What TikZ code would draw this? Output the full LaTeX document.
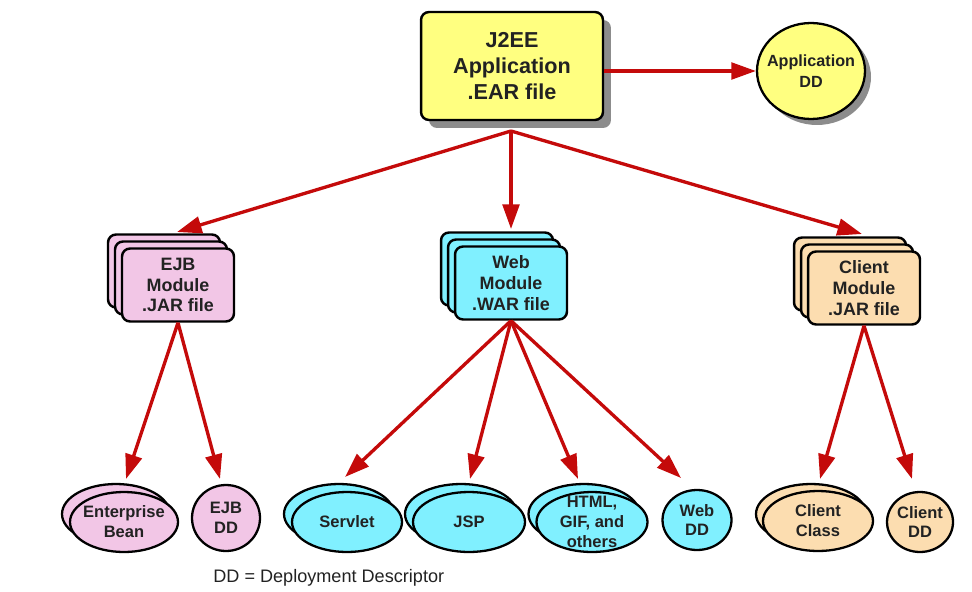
\documentclass[tikz,border=0pt]{standalone}
\usepackage{fontspec}
\setmainfont{Liberation Sans}
\usetikzlibrary{arrows.meta,calc,shapes.geometric,shadows}
\definecolor{yel}{HTML}{FFFF80}
\definecolor{pinkc}{HTML}{F2C6E6}
\definecolor{cyanc}{HTML}{80F0FF}
\definecolor{peach}{HTML}{FCDDB0}
\definecolor{arrred}{HTML}{C40A0A}
\definecolor{shd}{HTML}{8C8C8C}
\definecolor{txt}{HTML}{222222}
\begin{document}
\begin{tikzpicture}[x=0.02cm,y=-0.02cm,
  earbox/.style={draw=black, line width=1.4pt, rounded corners=0.16cm, fill=yel,
    minimum width=3.64cm, minimum height=2.16cm, inner sep=0pt, align=center,
    font=\bfseries\fontsize{12.3}{15}\selectfont, text=txt,
    drop shadow={shadow xshift=0.16cm, shadow yshift=-0.16cm, fill=shd, opacity=1}},
  modbox/.style={draw=black, line width=1.4pt, rounded corners=0.16cm, fill=#1,
    minimum width=2.24cm, minimum height=1.46cm, inner sep=0pt, align=center,
    font=\bfseries\fontsize{10.2}{11.9}\selectfont, text=txt},
  ell/.style={ellipse, draw=black, line width=1.3pt, fill=#1, inner sep=-0.3cm,
    align=center, font=\bfseries\fontsize{9.4}{11.3}\selectfont, text=txt},
  arr/.style={draw=arrred, line width=1.9pt, -{Triangle[length=14pt,width=9.5pt]}}
]
\useasboundingbox (0,0) rectangle (972,591);

% top
\node[earbox] (ear) at (512,66) {J2EE\\Application\\.EAR file};
\node[ell=yel, minimum width=2.16cm, minimum height=1.92cm,
  font=\bfseries\fontsize{9.2}{11.8}\selectfont,
  drop shadow={shadow xshift=0.12cm, shadow yshift=-0.12cm, fill=shd, opacity=1}]
  (appdd) at (811,71) {Application\\DD};

% module stacks
\node[modbox=pinkc] (ejbB2) at (164,271) {};
\node[modbox=pinkc] (ejbB1) at (171,278) {};
\node[modbox=pinkc] (ejb) at (178,285) {EJB\\Module\\.JAR file};

\node[modbox=cyanc] (webB2) at (497,269) {};
\node[modbox=cyanc] (webB1) at (504,276) {};
\node[modbox=cyanc] (web) at (511,283) {Web\\Module\\.WAR file};

\node[modbox=peach] (cliB2) at (850,274) {};
\node[modbox=peach] (cliB1) at (857,281) {};
\node[modbox=peach] (cli) at (864,288) {Client\\Module\\.JAR file};

% bottom ellipses
\node[ell=pinkc, minimum width=2.16cm, minimum height=1.2cm] (ebB) at (116,514) {};
\node[ell=pinkc, minimum width=2.16cm, minimum height=1.2cm] (eb) at (124,522) {Enterprise\\Bean};
\node[ell=pinkc, minimum width=1.36cm, minimum height=1.32cm] (ejbdd) at (226,518) {EJB\\DD};

\node[ell=cyanc, minimum width=2.2cm, minimum height=1.2cm] (svB) at (339,514) {};
\node[ell=cyanc, minimum width=2.2cm, minimum height=1.2cm] (sv) at (347,522) {Servlet};
\node[ell=cyanc, minimum width=2.24cm, minimum height=1.2cm] (jspB) at (461,514) {};
\node[ell=cyanc, minimum width=2.24cm, minimum height=1.2cm] (jsp) at (469,522) {JSP};
\node[ell=cyanc, minimum width=2.22cm, minimum height=1.2cm] (htB) at (584,514) {};
\node[ell=cyanc, minimum width=2.22cm, minimum height=1.2cm] (ht) at (592,522) {HTML,\\GIF, and\\others};
\node[ell=cyanc, minimum width=1.38cm, minimum height=1.2cm] (webdd) at (697,520) {Web\\DD};

\node[ell=peach, minimum width=2.2cm, minimum height=1.2cm] (ccB) at (811,514) {};
\node[ell=peach, minimum width=2.2cm, minimum height=1.2cm] (cc) at (818,521) {Client\\Class};
\node[ell=peach, minimum width=1.32cm, minimum height=1.2cm] (clidd) at (920,522) {Client\\DD};

\node[anchor=west, text=txt, font=\fontsize{10.3}{12}\selectfont, inner sep=0pt] (note) at (213,578) {DD = Deployment Descriptor};

% arrow ends
\coordinate (earS) at (511,131);
\coordinate (tEJB) at (177,232);
\coordinate (tWEB) at (511,229);
\coordinate (tCLI) at (862,234);
\coordinate (tEB) at (126,479);
\coordinate (tED) at (220,479);
\coordinate (tSV) at (345,477);
\coordinate (tJSP) at (470,479);
\coordinate (tHT) at (578,479);
\coordinate (tWD) at (681,478);
\coordinate (tCC) at (820,479);
\coordinate (tCD) at (912,479);

% arrows
\draw[arr] (ear.east |- appdd.west) -- (appdd.west);
\draw[arr] (earS) -- (tEJB);
\draw[arr] (earS) -- (tWEB);
\draw[arr] (earS) -- (tCLI);
\draw[arr] (ejb.south) -- (tEB);
\draw[arr] (ejb.south) -- (tED);
\draw[arr] (web.south) -- (tSV);
\draw[arr] (web.south) -- (tJSP);
\draw[arr] (web.south) -- (tHT);
\draw[arr] (web.south) -- (tWD);
\draw[arr] (cli.south) -- (tCC);
\draw[arr] (cli.south) -- (tCD);
\end{tikzpicture}
\end{document}
